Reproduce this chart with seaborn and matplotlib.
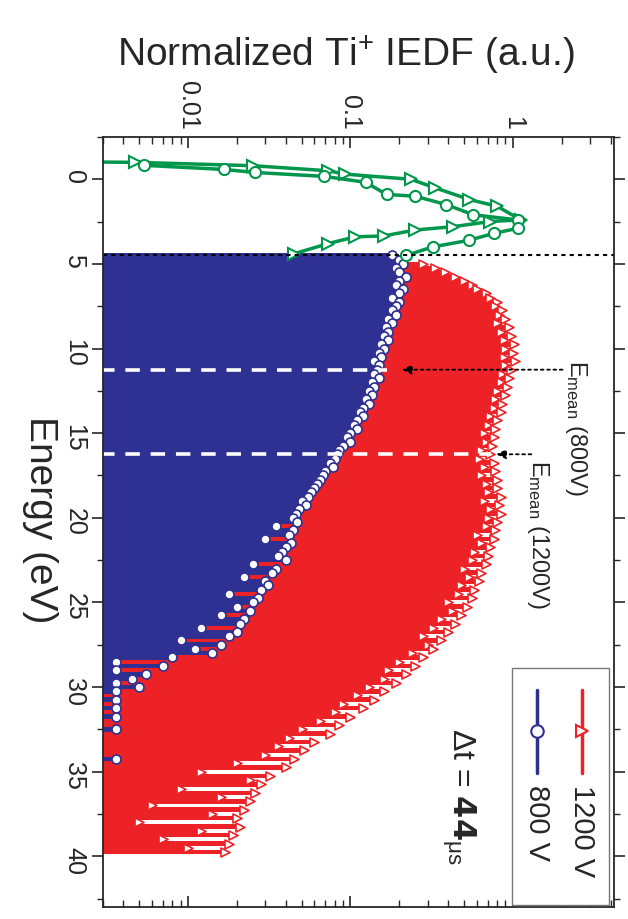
import numpy as np
import matplotlib
matplotlib.use("Agg")
import matplotlib.pyplot as plt
import seaborn as sns

# ---------- data ----------
# low-energy part, drawn green for both voltages
green_tri_energy = [-1.05, -1.0, -0.8, -0.5, -0.3, 0.0, 0.5, 1.2, 1.6, 2.4, 2.5, 2.8, 3.0, 3.35, 3.4, 3.8, 4.4]
green_tri_iedf = [0.001, 0.0047, 0.025, 0.073, 0.093, 0.235, 0.33, 0.54, 0.8, 1.12, 0.72, 0.43, 0.25, 0.16, 0.107, 0.073, 0.045]
green_circ_energy = [-0.82, -0.58, -0.4, -0.17, 0.18, 0.9, 1.0, 1.5, 2.1, 2.4, 2.9, 3.2, 3.6, 4.0, 4.5]
green_circ_iedf = [0.0054, 0.0166, 0.026, 0.069, 0.124, 0.167, 0.25, 0.39, 0.57, 1.07, 1.07, 0.76, 0.54, 0.32, 0.22]

# 800 V, energies 4.5 ... 34.5 eV in 0.25 eV steps
iedf_800 = [
    0.18, 0.2, 0.21, 0.19, 0.2, 0.22, 0.2,
    0.19, 0.21, 0.2, 0.18, 0.2, 0.19, 0.18, 0.19,
    0.17, 0.18, 0.165, 0.17, 0.16, 0.17, 0.155, 0.16,
    0.15, 0.155, 0.14, 0.15, 0.145, 0.14, 0.15, 0.135,
    0.14, 0.13, 0.135, 0.125, 0.13, 0.12, 0.115, 0.12,
    0.11, 0.105, 0.11, 0.1, 0.095, 0.1, 0.09, 0.085,
    0.083, 0.08, 0.075, 0.078, 0.07, 0.068, 0.065, 0.062,
    0.06, 0.057, 0.055, 0.05, 0.053, 0.048, 0.046, 0.044,
    0.047, 0.035, 0.044, 0.042, 0.03, 0.043, 0.04, 0.038,
    0.036, 0.04, 0.025, 0.035, 0.033, 0.022, 0.03, 0.031,
    0.028, 0.018, 0.027, 0.025, 0.02, 0.024, 0.016, 0.022,
    0.021, 0.012, 0.02, 0.018, 0.009, 0.016, 0.011, 0.014,
    0.008, 0.0036, 0.007, 0.0036, 0.0055, 0.0045, 0.0036, 0.005,
    0.0036, np.nan, 0.0036, np.nan, 0.0036, np.nan, 0.0036, np.nan,
    np.nan, 0.0036, np.nan, np.nan, np.nan, np.nan, np.nan, np.nan, 0.0036, np.nan,
]
# 1200 V, energies 4.5 ... 39.75 eV in 0.25 eV steps
iedf_1200 = [
    0.045, 0.12, 0.28, 0.33, 0.38, 0.44, 0.5,
    0.56, 0.6, 0.68, 0.72, 0.8, 0.78, 0.86, 0.82,
    0.9, 0.8, 0.95, 0.85, 0.98, 0.88, 1.02, 0.9,
    1.0, 0.88, 1.03, 0.9, 0.98, 0.86, 0.95, 0.84,
    0.92, 0.8, 0.9, 0.78, 0.86, 0.76, 0.84, 0.72,
    0.8, 0.7, 0.78, 0.66, 0.76, 0.68, 0.74, 0.64,
    0.72, 0.62, 0.76, 0.66, 0.78, 0.64, 0.8, 0.68,
    0.8, 0.7, 0.84, 0.66, 0.82, 0.72, 0.84, 0.7,
    0.8, 0.68, 0.78, 0.6, 0.76, 0.64, 0.72, 0.58,
    0.7, 0.56, 0.68, 0.5, 0.64, 0.54, 0.62, 0.48,
    0.58, 0.46, 0.56, 0.4, 0.52, 0.42, 0.48, 0.36,
    0.44, 0.32, 0.4, 0.28, 0.36, 0.3, 0.32, 0.24,
    0.28, 0.2, 0.25, 0.17, 0.22, 0.16, 0.19, 0.13,
    0.16, 0.11, 0.14, 0.09, 0.12, 0.08, 0.1, 0.065,
    0.085, 0.05, 0.075, 0.042, 0.06, 0.036, 0.052, 0.03,
    0.045, 0.02, 0.04, 0.012, 0.032, 0.024, 0.028, 0.009,
    0.026, 0.016, 0.024, 0.006, 0.022, 0.014, 0.02, 0.005,
    0.021, 0.012, 0.019, 0.007, 0.018, 0.01, 0.017,
]
e_start, e_step = 4.5, 0.25

emean_800 = 11.25
emean_1200 = 16.25
e_cut = 4.45

RED = "#ED2226"
BLUE = "#2E3192"
GREEN = "#00964B"

iedf_800 = np.array(iedf_800)
iedf_1200 = np.array(iedf_1200)
energy_800 = e_start + e_step * np.arange(len(iedf_800))
energy_1200 = e_start + e_step * np.arange(len(iedf_1200))

# ---------- plot ----------
sns.set_style("ticks")
plt.rcParams["font.family"] = ["Liberation Sans", "DejaVu Sans"]
plt.rcParams["mathtext.default"] = "regular"

fig = plt.figure(figsize=(6.28, 9.19), dpi=100)
ax = fig.add_axes([0.164, 0.013, 0.814, 0.838])
ax.set_xscale("log")
ax.set_xlim(0.003, 4.2)
ax.set_ylim(43, -2)

base = 1e-4
for e, v, c, mk in [(energy_1200, iedf_1200, RED, ">"), (energy_800, iedf_800, BLUE, "o")]:
    ok = ~np.isnan(v)
    ax.barh(e[ok], v[ok] - base, left=base, height=e_step * 1.08, color=c, linewidth=0)
    sns.scatterplot(x=v[ok], y=e[ok], marker=mk, s=42, color="white",
                    edgecolor=c, linewidth=1.2, ax=ax)

sns.lineplot(x=green_tri_iedf, y=green_tri_energy, sort=False, estimator=None,
             color=GREEN, lw=2.5, marker=">", ms=9, mfc="white", mec=GREEN, mew=1.5, ax=ax)
sns.lineplot(x=green_circ_iedf, y=green_circ_energy, sort=False, estimator=None,
             color=GREEN, lw=2.5, marker="o", ms=8, mfc="white", mec=GREEN, mew=1.5, ax=ax)

# threshold and mean-energy markers
ax.axhline(e_cut, color="black", lw=1.5, ls=(0, (2, 2)))
ax.plot([base, 0.167], [emean_800, emean_800], color="white", lw=2.6, ls=(0, (4, 3)))
ax.plot([base, 0.73], [emean_1200, emean_1200], color="white", lw=2.6, ls=(0, (4, 3)))
arrow = dict(arrowstyle="-|>", color="black", lw=1.3, ls=(0, (1.5, 2)), mutation_scale=14)
ax.annotate("", xy=(0.2, emean_800), xytext=(2.1, emean_800), arrowprops=arrow)
ax.annotate("", xy=(0.76, emean_1200), xytext=(1.35, emean_1200), arrowprops=arrow)
ax.text(2.45, 10.7, r"$E_{mean}$ (800V)", rotation=-90, ha="center", va="top", fontsize=17)
ax.text(1.43, 16.6, r"$E_{mean}$ (1200V)", rotation=-90, ha="center", va="top", fontsize=17)
ax.text(0.46, 32.4, r"$\Delta$t = $\mathbf{44}$$_{\mu s}$", rotation=-90, ha="center", va="top",
        fontsize=23)

# legend drawn sideways to match the rotated page
ax.add_patch(plt.Rectangle((0.80, 0.003), 0.19, 0.307, transform=ax.transAxes,
                           facecolor="white", edgecolor="#777777", lw=1, zorder=5))
for xl, c, mk, lab in [(0.937, RED, ">", "1200 V"), (0.849, BLUE, "o", "800 V")]:
    ax.plot([xl, xl], [0.282, 0.174], transform=ax.transAxes, color=c, lw=2.5, zorder=6)
    ax.plot([xl], [0.228], transform=ax.transAxes, marker=mk, ms=9, mfc="white", mec=c,
            mew=1.5, zorder=7)
    ax.text(xl, 0.158, lab, transform=ax.transAxes, rotation=-90, ha="center", va="top",
            fontsize=21, zorder=7)

# axes styling
ax.xaxis.set_ticks_position("both")
ax.xaxis.set_label_position("top")
ax.tick_params(axis="x", which="both", direction="in", labelbottom=False, labeltop=True,
               labelrotation=-90, labelsize=18, pad=5)
ax.tick_params(axis="x", which="major", length=8, width=1.2)
ax.tick_params(axis="x", which="minor", length=5, width=1)
ax.set_xticks([0.01, 0.1, 1])
ax.set_xticklabels(["0.01", "0.1", "1"])
ax.set_yticks(np.arange(0, 41, 5))
ax.set_yticks(np.arange(-2.5, 43, 2.5), minor=True)
ax.tick_params(axis="y", which="both", left=True, right=True, labelsize=18, labelrotation=-90)
ax.tick_params(axis="y", which="major", length=8, width=1.2, pad=4)
ax.tick_params(axis="y", which="minor", length=4, width=1)
ax.yaxis.set_tick_params(which="both", direction="out")
for spine in ax.spines.values():
    spine.set_linewidth(1.3)

ax.set_xlabel("Normalized Ti$^{+}$ IEDF (a.u.)", fontsize=28)
ax.xaxis.set_label_coords(0.474, 1.092)
ax.set_ylabel("Energy (eV)", fontsize=28, rotation=-90, va="center", ha="center")
ax.yaxis.set_label_coords(-0.123, 0.503)

fig.savefig("out.png", dpi=100)
